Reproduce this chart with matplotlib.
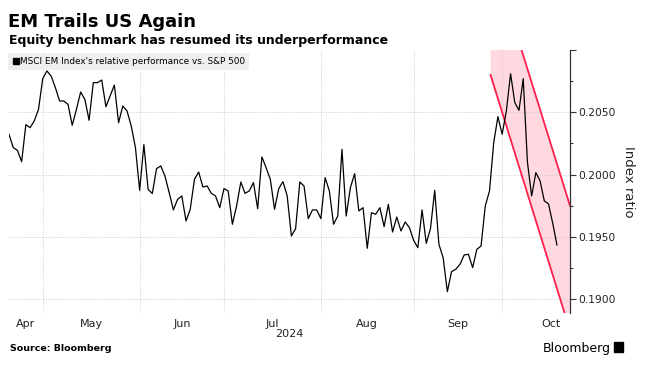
import numpy as np
import pandas as pd
import matplotlib
matplotlib.use('Agg')
import matplotlib.pyplot as plt
from matplotlib.lines import Line2D
from matplotlib.patches import Rectangle

# MSCI EM / S&P 500 ratio, one value per weekday from 19 Apr 2024
ratio = [
    0.20324, 0.20217, 0.20195, 0.20104, 0.20401, 0.20377, 0.20431, 0.20524, 0.20770, 0.20832,
    0.20791, 0.20698, 0.20591, 0.20591, 0.20564, 0.20396, 0.20524, 0.20663, 0.20604, 0.20436,
    0.20738, 0.20738, 0.20759, 0.20545, 0.20631, 0.20719, 0.20417, 0.20551, 0.20511, 0.20390,
    0.20217, 0.19874, 0.20241, 0.19882, 0.19848, 0.20048, 0.20070, 0.19989, 0.19856, 0.19717,
    0.19802, 0.19829, 0.19628, 0.19722, 0.19963, 0.20021, 0.19901, 0.19909, 0.19850, 0.19829,
    0.19735, 0.19888, 0.19869, 0.19602, 0.19749, 0.19941, 0.19850, 0.19869, 0.19936, 0.19727,
    0.20142, 0.20056, 0.19963, 0.19722, 0.19888, 0.19944, 0.19829, 0.19508, 0.19567, 0.19941,
    0.19909, 0.19647, 0.19717, 0.19717, 0.19647, 0.19976, 0.19870, 0.19602, 0.19668, 0.20203,
    0.19668, 0.19896, 0.20008, 0.19709, 0.19735, 0.19409, 0.19695, 0.19682, 0.19735, 0.19583,
    0.19762, 0.19540, 0.19660, 0.19548, 0.19620, 0.19575, 0.19473, 0.19414, 0.19717, 0.19449,
    0.19567, 0.19874, 0.19441, 0.19334, 0.19061, 0.19222, 0.19241, 0.19281, 0.19356, 0.19361,
    0.19254, 0.19401, 0.19428, 0.19749, 0.19869, 0.20257, 0.20465, 0.20324, 0.20511, 0.20810,
    0.20578, 0.20516, 0.20770, 0.20100, 0.19829, 0.20016, 0.19950, 0.19790, 0.19765, 0.19610,
    0.19436,
]
start_date = '2024-04-19'
end_month = '2024-10-31'

# downward channel (weekday position, ratio)
channel_x = [114.25, 133.1]
channel_top = [0.2180, 0.1975]
channel_bottom = [0.2080, 0.1875]

yticks = [0.1900, 0.1950, 0.2000, 0.2050, 0.2100]
ytick_labels = ['0.1900', '0.1950', '0.2000', '0.2050', '']

dates = pd.bdate_range(start_date, periods=len(ratio))
x = np.arange(len(ratio))

fig = plt.figure(figsize=(6.47, 3.71), dpi=100)
ax = fig.add_axes([9 / 647, 1 - 313 / 371, 561 / 647, 263 / 371])

ax.fill_between(channel_x, channel_bottom, channel_top, color='#ffd9df', lw=0, zorder=1)
ax.plot(channel_x, channel_top, color='#ff1f4b', lw=1.3, zorder=2)
ax.plot(channel_x, channel_bottom, color='#ff1f4b', lw=1.3, zorder=2)
ax.plot(x, ratio, color='black', lw=0.9, zorder=3)

ax.set_xlim(0, 133.1)
ax.set_ylim(0.1889, 0.2100)

# month grid + centred month labels
firsts = list(np.flatnonzero(dates.month[1:] != dates.month[:-1]) + 1)
end_pos = len(pd.bdate_range(start_date, end_month))
bounds = [0] + firsts + [end_pos]
centres = [(a + b) / 2 for a, b in zip(bounds[:-1], bounds[1:])]
months = [dates[b].strftime('%b') for b in bounds[:-1]]
ax.set_xticks(firsts)
ax.set_xticklabels([])
ax.set_xticks(centres, minor=True)
ax.set_xticklabels(months, minor=True)
ax.tick_params(axis='x', which='both', length=0, pad=4, labelsize=8, labelcolor='#222222')
ax.text(0.5, -0.062, '2024', transform=ax.transAxes, ha='center', va='top',
        fontsize=8, color='#222222')

ax.yaxis.tick_right()
ax.yaxis.set_label_position('right')
ax.set_yticks(yticks)
ax.set_yticklabels(ytick_labels)
ax.tick_params(axis='y', which='major', length=4, width=0.8, pad=2, labelsize=7.7,
               color='#333333', labelcolor='#222222')
ax.tick_params(axis='y', which='minor', length=2.5, width=0.8, color='#333333')
ax.set_yticks([0.1925, 0.1975, 0.2025, 0.2075], minor=True)
ax.set_ylabel('Index ratio', rotation=270, labelpad=14, fontsize=9.5, color='#222222')

ax.grid(True, which='major', color='#cccccc', lw=0.7, ls=(0, (1, 1.5)))
ax.yaxis.get_gridlines()[-1].set_visible(False)
for s in ['left', 'top', 'bottom']:
    ax.spines[s].set_visible(False)
ax.spines['right'].set_color('#333333')
ax.spines['right'].set_linewidth(0.9)

handle = Line2D([], [], marker='s', color='black', ls='', markersize=5)
leg = ax.legend([handle], ["MSCI EM Index's relative performance vs. S&P 500"],
                loc='upper left', bbox_to_anchor=(-0.001, 0.99), fontsize=6.4,
                frameon=True, fancybox=False, framealpha=1, facecolor='#efefef',
                edgecolor='none', borderpad=0.45, handletextpad=0.05, handlelength=0.8,
                borderaxespad=0)
leg.set_zorder(5)

fig.text(8 / 647, 1 - 27 / 371, 'EM Trails US Again', fontsize=13, fontweight='bold')
fig.text(9 / 647, 1 - 44 / 371, 'Equity benchmark has resumed its underperformance',
         fontsize=9, fontweight='bold')
fig.text(10 / 647, 1 - 351 / 371, 'Source: Bloomberg', fontsize=6.8, fontweight='bold')
fig.text(611 / 647, 1 - 352 / 371, 'Bloomberg', fontsize=9, ha='right')
fig.patches.append(Rectangle((614 / 647, 1 - 352 / 371), 9 / 647, 10 / 371,
                             transform=fig.transFigure, color='black'))

fig.savefig('out.png', dpi=100)
